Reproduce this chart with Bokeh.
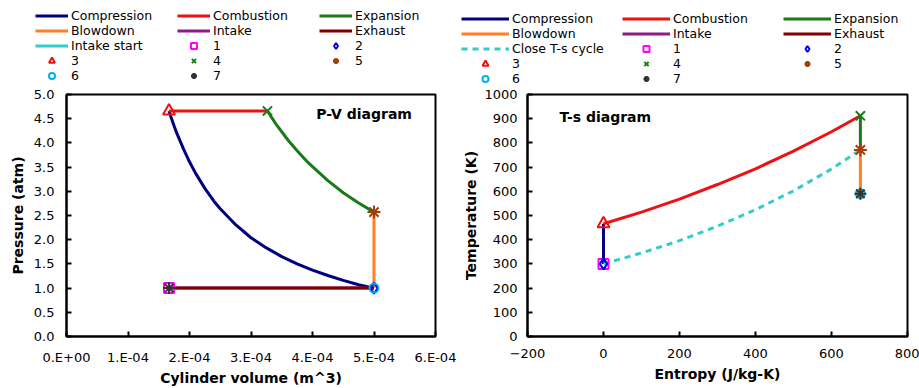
from bokeh.plotting import figure
from bokeh.layouts import row, column
from bokeh.models import Range1d, Legend, LegendItem, Label, FixedTicker, NumeralTickFormatter
from bokeh.embed import file_html
from bokeh.resources import INLINE

FONT = "DejaVu Sans"

# ---------------- P-V data ----------------
pv_comp_v = [1.667e-4, 1.7e-4, 1.75e-4, 1.8e-4, 1.9e-4, 2.0e-4, 2.1e-4, 2.25e-4, 2.4e-4, 2.5e-4, 2.75e-4,
             3.0e-4, 3.25e-4, 3.5e-4, 3.75e-4, 4.0e-4, 4.25e-4, 4.5e-4, 4.75e-4, 5.0e-4]
pv_comp_p = [4.66, 4.53, 4.35, 4.18, 3.88, 3.61, 3.37, 3.06, 2.79, 2.64, 2.31,
             2.04, 1.83, 1.65, 1.50, 1.37, 1.26, 1.16, 1.07, 1.00]
pv_comb_v = [1.667e-4, 3.267e-4]
pv_comb_p = [4.66, 4.66]
pv_exp_v = [3.267e-4, 3.4e-4, 3.5e-4, 3.6e-4, 3.75e-4, 3.9e-4, 4.0e-4, 4.25e-4, 4.5e-4, 4.75e-4, 5.0e-4]
pv_exp_p = [4.66, 4.40, 4.23, 4.06, 3.84, 3.63, 3.51, 3.22, 2.97, 2.76, 2.57]
pv_blow_v = [5.0e-4, 5.0e-4]
pv_blow_p = [2.57, 1.00]
pv_intake_v = [1.667e-4, 5.0e-4]
pv_intake_p = [1.0, 1.0]
pv_exh_v = [5.0e-4, 1.667e-4]
pv_exh_p = [1.0, 1.0]
pv_istart_v = [1.667e-4, 1.667e-4]
pv_istart_p = [1.0, 1.0]
pv_point_v = [1.667e-4, 5.0e-4, 1.667e-4, 3.267e-4, 5.0e-4, 5.0e-4, 1.667e-4]
pv_point_p = [1.0, 1.0, 4.66, 4.66, 2.57, 1.0, 1.0]
pv_xticks = [0.0, 0.0001, 0.0002, 0.0003, 0.0004, 0.0005, 0.0006]
pv_xtick_labels = ["0.E+00", "1.E-04", "2.E-04", "3.E-04", "4.E-04", "5.E-04", "6.E-04"]
pv_yticks = [0.0, 0.5, 1.0, 1.5, 2.0, 2.5, 3.0, 3.5, 4.0, 4.5, 5.0]

# ---------------- T-s data ----------------
ts_comp_s = [0, 0]
ts_comp_t = [300, 466]
ts_comb_s = [0, 100, 200, 300, 400, 500, 600, 676]
ts_comb_t = [466, 514, 568, 628, 693, 766, 846, 912]
ts_exp_s = [676, 676]
ts_exp_t = [912, 771]
ts_blow_s = [676, 676]
ts_blow_t = [771, 590]
ts_intake_s = [676, 676]
ts_intake_t = [590, 590]
ts_exh_s = [676, 676]
ts_exh_t = [590, 590]
ts_close_s = [0, 100, 200, 300, 400, 500, 600, 676]
ts_close_t = [300, 345, 396, 456, 524, 602, 692, 771]
ts_point_s = [0, 0, 0, 676, 676, 676, 676]
ts_point_t = [300, 300, 466, 912, 771, 590, 590]
ts_xticks = [-200, 0, 200, 400, 600, 800]
ts_yticks = [0, 100, 200, 300, 400, 500, 600, 700, 800, 900, 1000]

point_labels = ["1", "2", "3", "4", "5", "6", "7"]
line_labels_pv = ["Compression", "Combustion", "Expansion", "Blowdown", "Intake", "Exhaust", "Intake start"]
line_labels_ts = ["Compression", "Combustion", "Expansion", "Blowdown", "Intake", "Exhaust", "Close T-s cycle"]

line_colors = ["#000080", "#EE1111", "#1A7A1A", "#FF8020", "#8B1A8B", "#800000", "#33CCCC"]
line_dashes_pv = ["solid"] * 7
line_dashes_ts = ["solid"] * 6 + ["6 5"]
point_markers = ["square", "diamond", "triangle", "x", "asterisk", "circle", "asterisk"]
point_colors = ["#FF00FF", "#0000EE", "#EE1111", "#1A7A1A", "#A0400A", "#00B0F0", "#333333"]
point_sizes = [10, 11, 12, 13, 13, 9, 12]


def style(p, xlabel, ylabel):
    p.outline_line_color = "black"
    p.outline_line_width = 2
    p.grid.visible = False
    p.background_fill_color = "white"
    p.border_fill_color = "white"
    for ax in [p.xaxis[0], p.yaxis[0]]:
        ax.axis_line_color = "black"
        ax.axis_line_width = 2
        ax.major_tick_in = 5
        ax.major_tick_out = 0
        ax.major_tick_line_width = 2
        ax.major_tick_line_color = "black"
        ax.minor_tick_line_color = None
        ax.major_label_text_font = FONT
        ax.major_label_text_font_size = "13px"
        ax.major_label_text_color = "black"
        ax.axis_label_text_font = FONT
        ax.axis_label_text_font_size = "14px"
        ax.axis_label_text_font_style = "bold"
        ax.axis_label_text_color = "black"
    p.xaxis[0].axis_label = xlabel
    p.yaxis[0].axis_label = ylabel


def draw_series(p, lines, labels, dashes, px, py, visible=True):
    items = []
    for (xs, ys), lab, col, dash in zip(lines, labels, line_colors, dashes):
        r = p.line(xs, ys, line_color=col, line_width=3, line_dash=dash, visible=visible)
        items.append(LegendItem(label=lab, renderers=[r]))
    for i, lab in enumerate(point_labels):
        r = p.scatter([px[i]], [py[i]], marker=point_markers[i], size=point_sizes[i],
                      line_color=point_colors[i], fill_color=None, line_width=2, visible=visible)
        items.append(LegendItem(label=lab, renderers=[r]))
    return items


def make_legend(items, loc, glyph_w, standoff, label_w, gh):
    return Legend(items=items, location=loc, orientation="horizontal", ncols=3,
                  glyph_width=glyph_w, glyph_height=gh, label_height=gh, label_width=label_w,
                  label_standoff=standoff, spacing=0, padding=0, margin=0,
                  border_line_alpha=0, background_fill_alpha=0,
                  label_text_font=FONT, label_text_font_size="12.5px", label_text_color="black")


pv_lines = [(pv_comp_v, pv_comp_p), (pv_comb_v, pv_comb_p), (pv_exp_v, pv_exp_p),
            (pv_blow_v, pv_blow_p), (pv_intake_v, pv_intake_p), (pv_exh_v, pv_exh_p),
            (pv_istart_v, pv_istart_p)]
ts_lines = [(ts_comp_s, ts_comp_t), (ts_comb_s, ts_comb_t), (ts_exp_s, ts_exp_t),
            (ts_blow_s, ts_blow_t), (ts_intake_s, ts_intake_t), (ts_exh_s, ts_exh_t),
            (ts_close_s, ts_close_t)]

# ---------------- legend strip (spans both charts) ----------------
leg = figure(width=919, height=86, output_backend="svg", toolbar_location=None, title=None,
             x_axis_location=None, y_axis_location=None, x_range=Range1d(0, 1), y_range=Range1d(0, 1),
             min_border_left=0, min_border_right=0, min_border_top=0, min_border_bottom=0)
leg.grid.visible = False
leg.outline_line_color = None
leg.background_fill_color = "white"
leg.border_fill_color = "white"
items_pv = draw_series(leg, pv_lines, line_labels_pv, line_dashes_pv, pv_point_v, pv_point_p, visible=False)
items_ts = draw_series(leg, ts_lines, line_labels_ts, line_dashes_ts, ts_point_s, ts_point_t, visible=False)
leg.add_layout(make_legend(items_pv, (35, 3), 33, 3, 106, 15))
leg.add_layout(make_legend(items_ts, (461, 0), 48, 3, 110, 15))

# ---------------- P-V figure ----------------
p1 = figure(width=460, height=302, output_backend="svg", toolbar_location=None, title=None,
            x_range=Range1d(0, 6e-4), y_range=Range1d(0, 5),
            min_border_left=66, min_border_right=25, min_border_top=8, min_border_bottom=52)
style(p1, "Cylinder volume (m^3)", "Pressure (atm)")
p1.xaxis[0].ticker = FixedTicker(ticks=pv_xticks)
p1.xaxis[0].major_label_overrides = dict(zip(pv_xticks, pv_xtick_labels))
p1.yaxis[0].ticker = FixedTicker(ticks=pv_yticks)
p1.yaxis[0].formatter = NumeralTickFormatter(format="0.0")
p1.xaxis[0].major_label_standoff = 13
p1.xaxis[0].axis_label_standoff = 2
p1.yaxis[0].major_label_standoff = 12
p1.yaxis[0].axis_label_standoff = 5
draw_series(p1, pv_lines, line_labels_pv, line_dashes_pv, pv_point_v, pv_point_p)
p1.add_layout(Label(x=4.06e-4, y=4.59, text="P-V diagram", text_baseline="middle",
                    text_font=FONT, text_font_style="bold", text_font_size="14px", text_color="black"))

# ---------------- T-s figure ----------------
p2 = figure(width=459, height=302, output_backend="svg", toolbar_location=None, title=None,
            x_range=Range1d(-200, 800), y_range=Range1d(0, 1000),
            min_border_left=64, min_border_right=12, min_border_top=8, min_border_bottom=52)
style(p2, "Entropy (J/kg-K)", "Temperature (K)")
p2.xaxis[0].ticker = FixedTicker(ticks=ts_xticks)
p2.yaxis[0].ticker = FixedTicker(ticks=ts_yticks)
p2.xaxis[0].major_label_standoff = 12
p2.xaxis[0].axis_label_standoff = 5
p2.yaxis[0].major_label_standoff = 10
p2.yaxis[0].axis_label_standoff = 2
draw_series(p2, ts_lines, line_labels_ts, line_dashes_ts, ts_point_s, ts_point_t)
p2.add_layout(Label(x=-116, y=909, text="T-s diagram", text_baseline="middle",
                    text_font=FONT, text_font_style="bold", text_font_size="14px", text_color="black"))

layout = column(leg, row(p1, p2, spacing=0), spacing=0)
open("out.html", "w").write(file_html(layout, INLINE))
